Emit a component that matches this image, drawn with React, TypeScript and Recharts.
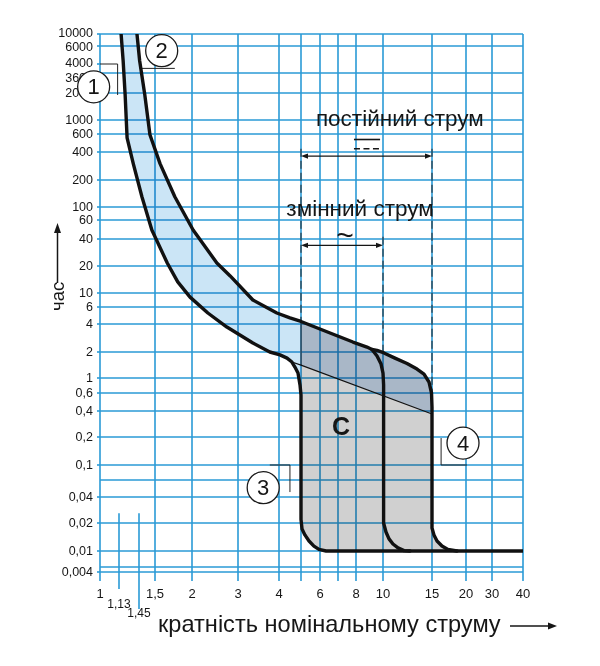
import React from 'react'
import {
  ComposedChart,
  Area,
  Line,
  XAxis,
  YAxis,
  CartesianGrid,
  ReferenceLine,
  ReferenceDot,
} from 'recharts'

type Pt = [number, number] // [multiple of In, time]

// the printed grid is hand spaced (log-like, not exact): [value, offset along the axis]
const X_SCALE: Pt[] = [
  [1, 0], [1.13, 19], [1.45, 39], [1.5, 55], [2, 92], [3, 138], [4, 179], [5, 201],
  [6, 220], [7, 238], [8, 256], [10, 283], [15, 332], [20, 366], [30, 392], [40, 423],
]
const Y_SCALE: Pt[] = [
  [0.004, 7], [0.006, 12], [0.01, 28], [0.02, 56], [0.04, 82], [0.06, 99], [0.1, 114],
  [0.2, 142], [0.4, 168], [0.6, 186], [1, 201], [2, 227], [4, 255], [6, 272], [10, 286],
  [20, 313], [40, 340], [60, 359], [100, 372], [200, 399], [400, 427], [600, 445],
  [1000, 459], [2000, 486], [3600, 506], [4000, 515], [6000, 533], [10000, 545],
]
const X_DOMAIN = [0, 423]
const Y_DOMAIN = [0, 545]

const X_TICKS = [1, 1.13, 1.45, 1.5, 2, 3, 4, 5, 6, 7, 8, 10, 15, 20, 30, 40]
const X_TICK_LABELS = ['1', '1,13', '1,45', '1,5', '2', '3', '4', '', '6', '', '8', '10', '15', '20', '30', '40']
const X_GRID = [1, 1.5, 2, 3, 4, 5, 6, 7, 8, 10, 15, 20, 30, 40]
const Y_TICKS = [
  10000, 6000, 4000, 3600, 2000, 1000, 600, 400, 200, 100, 60, 40, 20, 10, 6, 4, 2, 1,
  0.6, 0.4, 0.2, 0.1, 0.04, 0.02, 0.01, 0.004,
]
const Y_GRID = [
  10000, 6000, 3600, 2000, 1000, 600, 400, 200, 100, 60, 40, 20, 10, 6, 4, 2, 1,
  0.6, 0.4, 0.2, 0.1, 0.06, 0.04, 0.02, 0.01, 0.006, 0.004,
]

// curves
const CURVE_1: Pt[] = [
  [1.16, 10000], [1.19, 4300], [1.22, 1900], [1.25, 550], [1.35, 300], [1.459, 130],
  [1.49, 48.5], [1.65, 21.6], [1.79, 13.3], [1.97, 8.6], [2.3, 5.2], [2.72, 3.71],
  [3.04, 3.05], [3.33, 2.5], [3.75, 2], [4.04, 1.85], [4.34, 1.7], [4.56, 1.53],
  [4.7, 1.34], [4.85, 1.14], [4.95, 0.79], [5, 0.574], [5, 0.022], [5.05, 0.0172],
  [5.19, 0.0149], [5.4, 0.0128], [5.66, 0.0113], [5.94, 0.0104], [6.32, 0.01], [40, 0.01],
]
const CURVE_2: Pt[] = [
  [1.414, 10000], [1.452, 4300], [1.468, 1900], [1.484, 590], [1.56, 300], [1.75, 130],
  [2.02, 48.5], [2.49, 21.6], [2.8, 15.5], [3.33, 7.75], [3.94, 5.2], [4.47, 4.62],
  [5, 4.25], [6.54, 3.2], [7.82, 2.56], [8.76, 2.26], [9.13, 2.13], [9.52, 1.8],
  [9.84, 1.45], [10, 1.14], [10.05, 0.79], [10.05, 0.02], [10.25, 0.016], [10.51, 0.0135],
  [10.86, 0.0119], [11.32, 0.0108], [11.9, 0.0101], [12.5, 0.01],
]
const CURVE_DC: Pt[] = [
  [9.13, 2.13], [9.52, 2.08], [10.08, 1.95], [11.04, 1.7], [12.2, 1.47], [13.25, 1.27],
  [14.04, 1.11], [14.63, 0.873], [14.94, 0.6], [15, 0.438], [15, 0.0177], [15.25, 0.0149],
  [15.65, 0.0128], [16.32, 0.0113], [17.17, 0.0104], [18.53, 0.01],
]
const THIN_LINE: Pt[] = [[4.56, 1.53], [5, 1.41], [15, 0.37]]

// annotations
const DC_ARROW: Pt[] = [[5, 362], [15, 362]]
const AC_ARROW: Pt[] = [[5, 34], [10, 34]]
const DASHED: Pt[][] = [
  [[5, 430], [5, 4.25]],
  [[10, 42], [10, 1.95]],
  [[15, 430], [15, 0.6]],
]
const DC_SIGN: Pt[][] = [[[7.88, 530], [9.76, 530]], [[7.88, 430], [9.76, 430]]]
const LEADERS: Pt[][] = [
  [[1, 4000], [1.12, 4000], [1.12, 1900]],
  [[1.452, 3800], [1.75, 3800]],
  [[3.75, 0.1], [4.47, 0.1], [4.47, 0.045]],
  [[16.2, 0.195], [16.2, 0.1], [20.3, 0.1]],
]
// badge 1 sits over the axis labels, so it is drawn with the 2000 tick (the axis layer is on top)
const AXIS_BADGE = { n: '1', at: [0.96, 2400] as Pt, tick: 2000 }
const BADGES: { n: string; at: Pt }[] = [
  { n: '2', at: [1.58, 5400] },
  { n: '3', at: [3.58, 0.05] },
  { n: '4', at: [19.5, 0.172] },
]
const NOTES: { text: string; at: Pt; size: number; bold?: boolean }[] = [
  { text: 'постійний струм', at: [11.5, 1050], size: 22.5 },
  { text: 'змінний струм', at: [8.27, 95], size: 22.5 },
  { text: '~', at: [7.37, 44], size: 30 },
  { text: 'C', at: [7.16, 0.265], size: 25, bold: true },
]
const SHORT_TICKS: Pt[] = [[1.13, 0.026], [1.45, 0.026]]
const Y_LABEL_NUDGE: Record<number, number> = { 10000: -1, 6000: 1, 4000: -1, 3600: 5 }

const FONT = "'Liberation Sans', Arial, Helvetica, sans-serif"
const GRID_COLOR = '#2a9ad6'
const INK = '#161616'
const Y_TICK_SIZE = 3
const Y_TICK_MARGIN = 4

function warp(scale: Pt[], v: number) {
  const lv = Math.log10(v)
  let i = 0
  while (i < scale.length - 2 && lv > Math.log10(scale[i + 1][0])) i++
  const [va, pa] = scale[i]
  const [vb, pb] = scale[i + 1]
  return pa + ((pb - pa) * (lv - Math.log10(va))) / (Math.log10(vb) - Math.log10(va))
}
const wx = (v: number) => warp(X_SCALE, v)
const wy = (v: number) => warp(Y_SCALE, v)
const xy = (pts: Pt[]) => pts.map(([m, t]) => ({ x: wx(m), y: wy(t) }))
const seg = (a: Pt, b: Pt) => [{ x: wx(a[0]), y: wy(a[1]) }, { x: wx(b[0]), y: wy(b[1]) }]
const nearest = (arr: number[], u: number) =>
  arr.reduce((best, a, i) => (Math.abs(a - u) < Math.abs(arr[best] - u) ? i : best), 0)

const X_TICK_U = X_TICKS.map(wx)
const Y_TICK_U = Y_TICKS.map(wy)

// fills, built from the curves
const BAND = [
  ...CURVE_1.filter(([m, t]) => m <= 5 && t >= 0.5),
  ...CURVE_2.filter(([m]) => m <= 5).reverse(),
]
const UPPER_EDGE = [
  ...CURVE_2.filter(([m, t]) => m >= 5 && t >= 2.1),
  ...CURVE_DC.filter(([m, t]) => m > 9.13 && t >= 0.4),
]
const ZONE_TOP = [THIN_LINE[1], ...UPPER_EDGE, THIN_LINE[2], THIN_LINE[1]]
const ZONE_LOW = [
  THIN_LINE[1],
  THIN_LINE[2],
  ...CURVE_DC.filter(([m, t]) => m >= 15 && t < 0.3),
  ...CURVE_1.filter(([m, t]) => m >= 5 && m < 40 && t < 0.03).reverse(),
  THIN_LINE[1],
]

function Badge({ cx, cy, n }: { cx: number; cy: number; n: string }) {
  return (
    <g>
      <circle cx={cx} cy={cy} r={16} fill="#fff" stroke="#1a1a1a" strokeWidth={1.3} />
      <text x={cx} y={cy} textAnchor="middle" dominantBaseline="central" fontSize={22} fill={INK}>
        {n}
      </text>
    </g>
  )
}

function XTick(props: any) {
  const { x, y, payload } = props
  const i = nearest(X_TICK_U, payload.value)
  const v = X_TICKS[i]
  const small = v === 1.13 || v === 1.45
  const drop = v === 1.13 ? 10 : v === 1.45 ? 30 : 2
  const base = v === 1.13 ? 29 : v === 1.45 ? 38 : 18.5
  return (
    <g>
      <line x1={x} x2={x} y1={y} y2={y + drop} stroke={GRID_COLOR} strokeWidth={1.6} />
      <text x={x} y={y + base} textAnchor="middle" fontSize={small ? 12 : 13} fill={INK}>
        {X_TICK_LABELS[i]}
      </text>
    </g>
  )
}

function YTick(props: any) {
  const { x, y, payload } = props
  const i = nearest(Y_TICK_U, payload.value)
  const v = Y_TICKS[i]
  // one grid unit is one pixel on both axes
  const badge =
    v === AXIS_BADGE.tick ? (
      <Badge
        n={AXIS_BADGE.n}
        cx={x + Y_TICK_SIZE + Y_TICK_MARGIN + wx(AXIS_BADGE.at[0])}
        cy={y - (wy(AXIS_BADGE.at[1]) - wy(v))}
      />
    ) : null
  return (
    <g>
      <text
        x={x}
        y={y + (Y_LABEL_NUDGE[v] ?? 0)}
        textAnchor="end"
        dominantBaseline="central"
        fontSize={12.5}
        fill={INK}
      >
        {String(v).replace('.', ',')}
      </text>
      {badge}
    </g>
  )
}

function DoubleArrow(p: any) {
  const { x1, y1, x2, y2 } = p
  const h = 7
  const w = 2.6
  return (
    <g>
      <line x1={x1 + h} y1={y1} x2={x2 - h} y2={y2} stroke={INK} strokeWidth={1.3} />
      <polygon points={`${x1},${y1} ${x1 + h},${y1 - w} ${x1 + h},${y1 + w}`} fill={INK} />
      <polygon points={`${x2},${y2} ${x2 - h},${y2 - w} ${x2 - h},${y2 + w}`} fill={INK} />
    </g>
  )
}

export default function App() {
  const curveProps = {
    dataKey: 'y',
    type: 'linear' as const,
    stroke: '#111',
    strokeWidth: 3.4,
    strokeLinejoin: 'round' as const,
    strokeLinecap: 'round' as const,
    dot: false,
    activeDot: false,
    isAnimationActive: false,
  }
  const fillProps = {
    dataKey: 'y',
    type: 'linear' as const,
    stroke: 'none',
    fillOpacity: 1,
    className: 'mul',
    dot: false,
    activeDot: false,
    isAnimationActive: false,
  }
  return (
    <div style={{ position: 'absolute', left: 0, top: 0, width: 600, height: 666, background: '#fff', fontFamily: FONT }}>
      <style>{'.mul { mix-blend-mode: multiply; }'}</style>
      <ComposedChart width={600} height={666} margin={{ top: 34, right: 77, bottom: 47, left: 40 }}>
        <CartesianGrid
          stroke={GRID_COLOR}
          strokeWidth={1.6}
          horizontalValues={Y_GRID.map(wy)}
          verticalValues={X_GRID.map(wx)}
        />
        <XAxis
          type="number"
          dataKey="x"
          domain={X_DOMAIN}
          allowDataOverflow
          ticks={X_TICK_U}
          interval={0}
          height={40}
          axisLine={false}
          tickLine={false}
          tickSize={0}
          tickMargin={0}
          tick={(p: any) => <XTick {...p} />}
        />
        <YAxis
          type="number"
          domain={Y_DOMAIN}
          allowDataOverflow
          ticks={Y_TICK_U}
          interval={0}
          width={60}
          axisLine={false}
          tickLine={{ stroke: GRID_COLOR, strokeWidth: 1.6 }}
          tickSize={Y_TICK_SIZE}
          tickMargin={Y_TICK_MARGIN}
          tick={(p: any) => <YTick {...p} />}
        />

        <Area {...fillProps} data={xy(BAND)} baseValue={wy(10000)} fill="#cbe5f6" />
        <Area {...fillProps} data={xy(ZONE_TOP)} baseValue={wy(THIN_LINE[1][1])} fill="#a9b7c7" />
        <Area {...fillProps} data={xy(ZONE_LOW)} baseValue={wy(THIN_LINE[1][1])} fill="#d0d0d0" />

        {SHORT_TICKS.map(([m, t]) => (
          <ReferenceLine
            key={'st' + m}
            segment={[{ x: wx(m), y: wy(t) }, { x: wx(m), y: Y_DOMAIN[0] }]}
            stroke={GRID_COLOR}
            strokeWidth={1.6}
            ifOverflow="visible"
          />
        ))}
        {DASHED.map(([a, b], i) => (
          <ReferenceLine key={'d' + i} segment={seg(a, b)} stroke="#222" strokeWidth={1} strokeDasharray="8 4" ifOverflow="visible" />
        ))}
        <ReferenceLine segment={seg([5, 4.25], THIN_LINE[1])} stroke="#333" strokeWidth={1} ifOverflow="visible" />
        <ReferenceLine segment={seg(DC_ARROW[0], DC_ARROW[1])} shape={(p: any) => <DoubleArrow {...p} />} ifOverflow="visible" />
        <ReferenceLine segment={seg(AC_ARROW[0], AC_ARROW[1])} shape={(p: any) => <DoubleArrow {...p} />} ifOverflow="visible" />
        <ReferenceLine segment={seg(DC_SIGN[0][0], DC_SIGN[0][1])} stroke={INK} strokeWidth={1.6} ifOverflow="visible" />
        <ReferenceLine segment={seg(DC_SIGN[1][0], DC_SIGN[1][1])} stroke={INK} strokeWidth={1.6} strokeDasharray="6 3.5" ifOverflow="visible" />
        {LEADERS.flatMap((pts, i) =>
          pts.slice(1).map((p, j) => (
            <ReferenceLine key={`l${i}-${j}`} segment={seg(pts[j], p)} stroke="#222" strokeWidth={1} ifOverflow="visible" />
          )),
        )}

        <Line {...curveProps} data={xy(THIN_LINE)} strokeWidth={1.1} />
        <Line {...curveProps} data={xy(CURVE_1)} />
        <Line {...curveProps} data={xy(CURVE_2)} />
        <Line {...curveProps} data={xy(CURVE_DC)} />

        {NOTES.map((n) => (
          <ReferenceDot
            key={n.text}
            x={wx(n.at[0])}
            y={wy(n.at[1])}
            r={0}
            stroke="none"
            fill="none"
            ifOverflow="visible"
            label={{ value: n.text, position: 'center', fontSize: n.size, fontWeight: n.bold ? 'bold' : 'normal', fill: INK }}
          />
        ))}
        {BADGES.map((b) => (
          <ReferenceDot
            key={b.n}
            x={wx(b.at[0])}
            y={wy(b.at[1])}
            r={16}
            fill="#fff"
            stroke="#1a1a1a"
            strokeWidth={1.3}
            ifOverflow="visible"
            label={{ value: b.n, position: 'center', fontSize: 22, fill: INK }}
          />
        ))}
      </ComposedChart>
      <svg width={600} height={666} style={{ position: 'absolute', left: 0, top: 0, pointerEvents: 'none' }}>
        <text x={158} y={632} fontSize={23.6} fill={INK}>
          кратність номінальному струму
        </text>
        <line x1={510} y1={626} x2={549} y2={626} stroke={INK} strokeWidth={1.5} />
        <polygon points="557,626 548,622.5 548,629.5" fill={INK} />
        <text transform="translate(63.5,311) rotate(-90)" fontSize={18.5} fill={INK}>
          час
        </text>
        <line x1={57.5} y1={283} x2={57.5} y2={232} stroke={INK} strokeWidth={1.5} />
        <polygon points="57.5,223 54,233 61,233" fill={INK} />
      </svg>
    </div>
  )
}
